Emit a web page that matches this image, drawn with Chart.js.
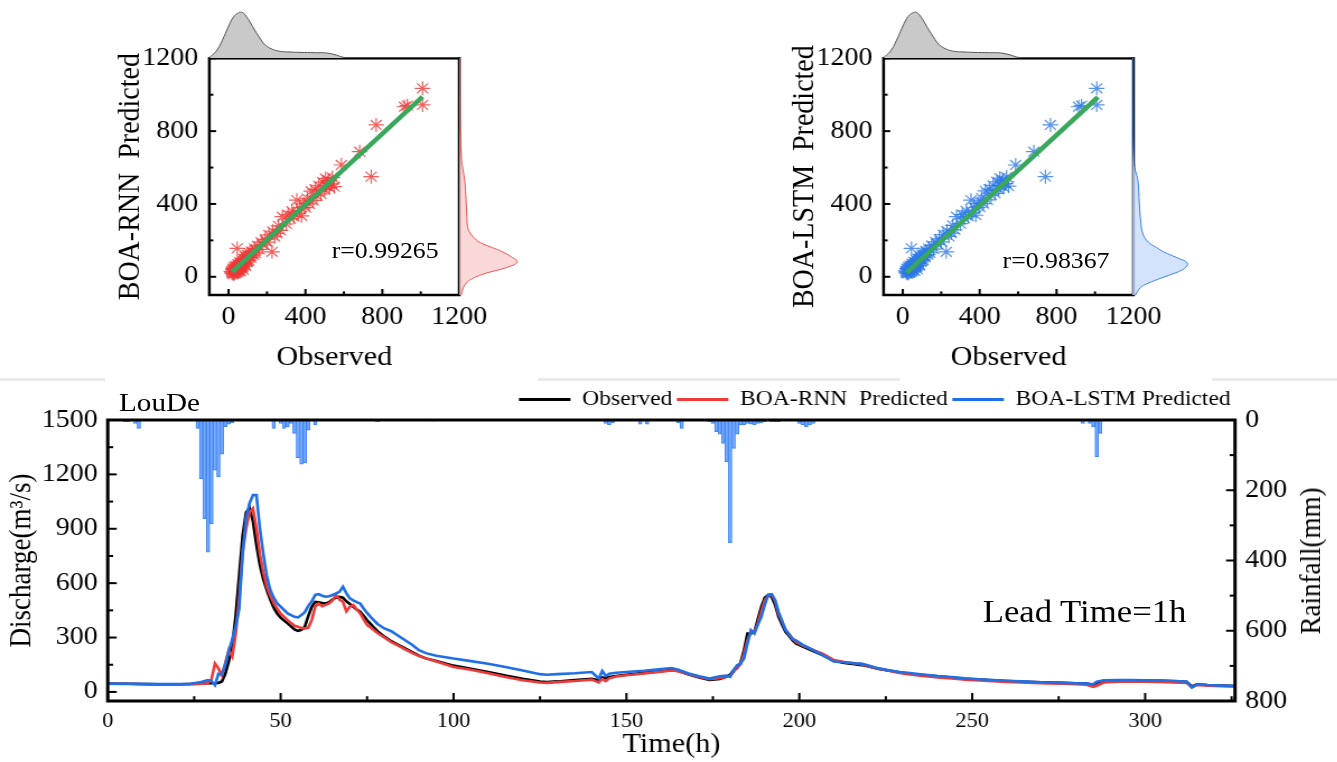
<!DOCTYPE html>
<html>
<head>
<meta charset="utf-8">
<script src="https://cdn.jsdelivr.net/npm/chart.js@4.4.0/dist/chart.umd.min.js"></script>
<style>
html,body{margin:0;padding:0;background:#fff;overflow:hidden;width:1337px;height:762px}
#wrap{position:absolute;left:0;top:0;width:1194px;height:762px;transform:scaleX(1.12);transform-origin:0 0;font-family:'Liberation Serif','Times New Roman',serif;color:#000}
canvas{position:absolute}
.lbl{position:absolute;white-space:pre;line-height:1}
.vt{position:absolute;white-space:pre;line-height:1;font-size:27px;transform:translate(-50%,-50%) rotate(-90deg)}
.sep{position:absolute;top:378px;height:3px;background:#ebebeb}
</style>
</head>
<body>
<div class="sep" style="left:0;width:105px"></div>
<div class="sep" style="left:538px;width:362px"></div>
<div class="sep" style="left:1212px;width:125px"></div>
<div id="wrap">
  <canvas id="scatL" width="346" height="375" style="left:96px;top:0"></canvas>
  <canvas id="scatR" width="346" height="375" style="left:697.8px;top:0"></canvas>
  <canvas id="topL" width="223" height="58" style="left:187px;top:0"></canvas>
  <canvas id="sideL" width="72" height="237" style="left:410px;top:58px"></canvas>
  <canvas id="topR" width="223" height="58" style="left:788.7px;top:0"></canvas>
  <canvas id="sideR" width="72" height="237" style="left:1011.3px;top:58px"></canvas>
  <canvas id="flow" width="1194" height="382" style="left:0;top:380px"></canvas>
  <div class="lbl" style="left:296.2px;top:239px;font-size:23px">r=0.99265</div>
  <div class="lbl" style="left:895.2px;top:248.5px;font-size:23px">r=0.98367</div>
  <div class="lbl" style="left:106.3px;top:390.3px;font-size:26px">LouDe</div>
  <div class="lbl" style="left:877.4px;top:596.2px;font-size:31px">Lead Time=1h</div>
  <div class="vt" style="left:1169.6px;top:560.8px">Rainfall(mm)</div>
</div>
<script>
// time series (hours)
const timeHours = [0,3,6,9,12,15,18,21,24,27,28,29,30,31,32,33,34,35,36,37,38,39,40,41,42,43,44,45,46,47,48,49,50,52,54,55,56,57,58,59,60,61,62,63,64,65,66,67,68,69,70,71,72,73,74,75,76,77,78,80,82,84,86,88,90,92,95,100,105,110,115,120,125,127,130,135,140,142,143,144,145,147,150,155,160,163,165,168,171,174,177,179,180,181,182,183,184,185,186,187,188,189,190,191,192,193,194,195,196,197,198,199,201,204,207,210,213,216,218,220,223,226,229,232,235,240,244,248,252,256,260,264,268,272,276,280,283,285,286,288,292,296,300,304,308,312,313.5,315,318,322,326];
const observed = [46,45,45,44,43,42,42,42,44,46,47,48,48,48,50,58,100,170,255,420,640,860,990,1015,940,810,700,620,561,510,465,433,410,378,345,337,342,360,420,470,497,495,490,488,495,510,520,525,520,500,485,470,455,442,420,395,375,355,335,305,280,260,240,220,200,185,170,145,128,110,90,72,58,55,58,65,72,65,80,75,82,88,95,105,115,122,115,96,80,66,72,85,95,120,132,160,230,322,322,331,400,469,520,534,525,480,414,372,332,310,285,268,250,225,200,172,160,153,148,140,126,117,108,100,94,86,80,73,68,64,60,57,54,52,50,48,46,40,50,60,62,62,62,61,59,56,30,42,38,35,33];
const rnnPred = [45,44,44,43,41,40,41,42,43,45,46,50,70,157,130,92,160,230,195,320,520,770,900,990,1012,900,760,660,580,530,490,460,432,396,365,360,352,350,355,396,470,488,473,480,488,505,534,510,497,445,470,480,455,433,400,370,355,340,325,300,275,255,235,215,198,185,168,138,122,103,82,64,52,50,54,60,68,52,72,60,75,85,92,102,112,118,114,97,83,70,75,84,90,110,136,152,210,285,330,330,380,445,505,530,536,502,432,388,345,320,295,276,256,232,208,176,165,158,152,141,128,117,105,96,89,80,74,68,63,59,55,52,49,47,45,43,40,28,34,52,57,57,56,55,53,50,26,38,35,32,30];
const lstmPred = [46,45,45,45,44,43,43,43,45,55,60,65,60,38,100,95,150,225,290,360,460,760,960,1040,1086,1086,900,760,640,562,520,488,470,433,414,411,425,440,475,500,535,540,530,525,528,535,543,552,580,545,516,505,495,488,460,436,414,395,375,350,335,310,285,260,230,214,200,184,170,155,138,118,98,95,98,103,110,74,116,88,100,106,110,117,126,132,122,102,86,74,86,90,83,122,147,157,185,267,341,322,372,414,480,536,539,506,440,392,341,318,292,285,260,230,200,168,164,157,156,146,130,120,110,104,98,88,82,75,70,66,62,58,55,52,50,48,46,42,56,64,65,65,64,64,62,56,24,42,38,35,33];

// hourly rainfall (mm), drawn downward from the top
const rainHours = [5,6,8,9,26,27,28,29,30,31,32,33,34,35,36,48,50,51,52,53,54,55,56,57,58,60,78,94,144,145,146,154,156,165,166,174,175,176,177,178,179,180,181,182,183,184,185,186,187,188,189,190,192,193,194,200,201,202,203,204,282,284,285,286,287];
const rainMm = [5,5,10,24,24,167,281,376,295,143,162,97,19,12,8,24,10,24,19,10,38,108,126,122,29,14,5,3,10,14,8,12,12,8,24,5,10,33,40,67,119,349,81,40,14,14,10,12,14,10,8,5,5,5,5,10,14,19,14,10,10,10,19,105,38];

// scatter panels: observed vs predicted pairs
const scatObs = [20,22,25,28,30,32,35,38,40,42,45,45,48,50,52,55,58,60,62,65,68,70,72,75,78,80,85,88,90,95,100,105,110,115,120,130,135,140,150,160,170,180,190,200,210,226,230,240,252,260,270,280,300,310,320,330,340,355,360,370,380,390,400,410,420,430,440,450,460,470,480,490,500,505,510,520,525,535,540,550,587,682,742,768,915,930,1009,1009,15,18,24,27,33,36,44,47,53,57,63,67,74,83,93,98,108,125];
const scatRnn = [25,45,15,35,55,20,40,60,30,50,25,156,70,40,60,35,80,55,30,75,50,90,60,40,100,70,95,60,110,80,120,90,130,105,140,120,155,130,170,150,190,175,205,190,230,137,250,220,238,280,255,330,290,340,320,360,330,421,350,380,335,400,380,430,400,470,420,480,445,500,455,520,480,540,500,530,490,510,545,495,614,687,550,834,934,940,1035,944,30,20,40,22,45,28,55,35,62,45,70,58,80,75,100,88,115,135];
const scatLstm = [28,45,18,38,55,22,42,62,32,52,28,156,72,42,62,38,82,58,32,78,52,92,62,42,100,72,98,62,112,82,122,92,132,108,142,122,155,132,172,152,192,178,208,192,232,137,252,222,240,282,258,330,292,342,322,362,332,421,352,382,338,402,382,432,402,472,422,482,448,502,458,522,482,542,502,532,492,512,548,498,614,687,550,834,934,940,1035,944,32,22,42,25,48,30,57,38,64,48,72,60,82,78,102,90,118,137];

// fitted lines of the scatter panels
const fitObsL = [19, 1009];
const fitRnn = [27, 989];
const fitObsR = [20, 1015];
const fitLstm = [22, 987];

// marginal densities (arbitrary units)
const obsDensVal = [-100,-93,-60,-24,0,27,50,71,90,114,135,157,180,200,230,269,320,372,450,510,560,594,650,800,1000,1200];
const obsDens = [0.5,1.6,8,21.6,32,41.6,45,45.6,42,35,28,21.6,15,11.6,8.5,6.6,6,5.6,5.3,5,3,0.8,0.3,0.2,0.2,0.1];
const rnnDensVal = [-100,-60,-35,-10,20,50,81,110,140,160,180,202,240,275,350,450,515,580,641,800,1000,1200];
const rnnDens = [2,4,7,13,27,47,58,52,42,33,24,17,11,8.4,7.5,6.5,5.7,4,2.3,1,0.5,0.3];
const lstmDensVal = [-100,-60,-40,-15,15,45,75,106,135,161,190,235,300,400,527,600,700,900,1200];
const lstmDens = [3,8,14,25,40,52,55,44,32,24,16,10.6,8.5,7,5.6,2.3,1,0.5,0.3];

const scatterTicks = [0, 400, 800, 1200];
const flowTicks = [0, 300, 600, 900, 1200, 1500];
const rainTicks = [0, 200, 400, 600, 800];
const timeTicks = [0, 50, 100, 150, 200, 250, 300];

Chart.defaults.font.family = "'Liberation Serif', 'Times New Roman', serif";
Chart.defaults.color = '#000';

const setTicks = vals => scale => { scale.ticks = vals.map(v => ({value: v})); };
const fixWidth = w => scale => { scale.width = w; };
const fixHeight = h => scale => { scale.height = h; };
const plain = v => String(v);

// inward tick marks + frame
const innerTicks = {
  id: 'innerTicks',
  afterDatasetsDraw(chart, args, opts) {
    const ctx = chart.ctx, a = chart.chartArea;
    ctx.save();
    ctx.strokeStyle = '#000';
    ctx.lineWidth = opts.tickWidth || 2;
    (opts.axes || []).forEach(ax => {
      const s = chart.scales[ax.id];
      const hi = Math.max(s.min, s.max);
      for (let v = ax.from; v <= hi + 1e-6; v += ax.minor) {
        const major = Math.abs(v / ax.major - Math.round(v / ax.major)) < 1e-6;
        const len = major ? ax.len : ax.len * 0.6;
        const p = s.getPixelForValue(v);
        ctx.beginPath();
        if (ax.side === 'left') { ctx.moveTo(a.left, p); ctx.lineTo(a.left + len, p); }
        else if (ax.side === 'right') { ctx.moveTo(a.right, p); ctx.lineTo(a.right - len, p); }
        else { ctx.moveTo(p, a.bottom); ctx.lineTo(p, a.bottom - len); }
        ctx.stroke();
      }
    });
    ctx.lineWidth = opts.box || 2;
    ctx.strokeRect(a.left, a.top, a.right - a.left, a.bottom - a.top);
    ctx.restore();
  }
};

// grow/shrink the canvas until the plot frame ends where the picture has it
function fitRight(chart, target) {
  for (let k = 0; k < 4; k++) {
    const dw = target - chart.chartArea.right;
    if (Math.abs(dw) < 0.5) break;
    chart.resize(Math.round(chart.width + dw), chart.height);
  }
}

function scatterPanel(id, pred, color, yTitle, fitX, fitY) {
  return new Chart(document.getElementById(id), {
    type: 'scatter',
    data: {
      datasets: [
        { type: 'line', data: fitX.map((x, i) => ({x: x, y: fitY[i]})), borderColor: '#3aa85c', borderWidth: 4.5, pointRadius: 0, order: 0 },
        { data: scatObs.map((x, i) => ({x: x, y: pred[i]})), pointStyle: 'star', pointRadius: 7,
          borderColor: color, backgroundColor: color, borderWidth: 1.2, order: 1 }
      ]
    },
    options: {
      responsive: false, animation: false,
      layout: { padding: { top: 58.3, right: 0, left: 0, bottom: 0 } },
      plugins: {
        legend: { display: false }, tooltip: { enabled: false },
        innerTicks: { box: 2.5, tickWidth: 2, axes: [
          { id: 'x', side: 'bottom', from: 0, major: 400, minor: 200, len: 6 },
          { id: 'y', side: 'left', from: 0, major: 400, minor: 200, len: 6 }
        ] }
      },
      scales: {
        x: { type: 'linear', min: -100, max: 1200, afterBuildTicks: setTicks(scatterTicks), afterFit: fixHeight(80),
             grid: { display: false, drawTicks: false }, border: { display: false },
             ticks: { font: { size: 25 }, padding: 7, maxRotation: 0, callback: plain },
             title: { display: true, text: 'Observed', font: { size: 27 }, padding: { top: 0, bottom: 1 } } },
        y: { type: 'linear', min: -100, max: 1200, afterBuildTicks: setTicks(scatterTicks), afterFit: fixWidth(90.9),
             grid: { display: false, drawTicks: false }, border: { display: false },
             ticks: { font: { size: 25 }, padding: 10, callback: plain },
             title: { display: true, text: yTitle, font: { size: 28 }, padding: { top: 4, bottom: 0 } } }
      }
    },
    plugins: [innerTicks]
  });
}

function topDensity(id) {
  return new Chart(document.getElementById(id), {
    type: 'line',
    data: { datasets: [{ data: obsDensVal.map((v, i) => ({x: v, y: obsDens[i]})), borderColor: '#555', borderWidth: 1,
      backgroundColor: '#c9c9c9', fill: 'origin', pointRadius: 0, tension: 0.4 }] },
    options: {
      responsive: false, animation: false, layout: { padding: 0 },
      plugins: { legend: { display: false }, tooltip: { enabled: false } },
      scales: { x: { type: 'linear', min: -100, max: 1200, display: false }, y: { type: 'linear', min: 0, max: 58, display: false } }
    }
  });
}

function sideDensity(id, vals, dens, line, fillc) {
  return new Chart(document.getElementById(id), {
    type: 'line',
    data: { datasets: [{ data: vals.map((v, i) => ({x: dens[i], y: v})), borderColor: line, borderWidth: 1,
      backgroundColor: fillc, fill: 'origin', pointRadius: 0, tension: 0.4 }] },
    options: {
      indexAxis: 'y', responsive: false, animation: false, layout: { padding: 0 },
      plugins: { legend: { display: false }, tooltip: { enabled: false } },
      scales: { x: { type: 'linear', min: 0, max: 80.6, display: false }, y: { type: 'linear', min: -100, max: 1200, display: false } }
    }
  });
}

const scatLeft = scatterPanel('scatL', scatRnn, 'rgba(240,55,55,0.8)', 'BOA-RNN  Predicted', fitObsL, fitRnn);
const scatRight = scatterPanel('scatR', scatLstm, 'rgba(45,120,230,0.8)', 'BOA-LSTM  Predicted', fitObsR, fitLstm);
fitRight(scatLeft, 410.1 - 96);
fitRight(scatRight, 1011.3 - 697.8);
topDensity('topL');
topDensity('topR');
sideDensity('sideL', rnnDensVal, rnnDens, '#f05050', 'rgba(250,200,200,0.7)');
sideDensity('sideR', lstmDensVal, lstmDens, '#3a80e0', 'rgba(200,220,250,0.8)');

const series = vals => timeHours.map((t, i) => ({x: t, y: vals[i]}));

new Chart(document.getElementById('flow'), {
  type: 'line',
  data: {
    datasets: [
      { label: 'Observed', data: series(observed), borderColor: '#000', borderWidth: 2.6, pointRadius: 0, pointBorderWidth: 3, order: 3, yAxisID: 'y' },
      { label: 'BOA-RNN  Predicted', data: series(rnnPred), borderColor: '#f03a3a', borderWidth: 2.6, pointRadius: 0, pointBorderWidth: 3, order: 2, yAxisID: 'y' },
      { label: 'BOA-LSTM Predicted', data: series(lstmPred), borderColor: '#1f6fe6', borderWidth: 2.6, pointRadius: 0, pointBorderWidth: 3, order: 1, yAxisID: 'y' },
      { type: 'bar', label: 'Rainfall', data: rainHours.map((t, i) => ({x: t, y: rainMm[i]})), yAxisID: 'y2', order: 4,
        backgroundColor: 'rgba(120,170,255,0.8)', borderColor: '#3d84f5', borderWidth: 1, barPercentage: 1, categoryPercentage: 1 }
    ]
  },
  options: {
    responsive: false, animation: false,
    layout: { padding: { top: 5, left: 0, right: 0, bottom: 0 } },
    plugins: {
      tooltip: { enabled: false },
      legend: {
        position: 'top', align: 'end', fullSize: false,
        labels: { usePointStyle: true, pointStyle: 'line', pointStyleWidth: 46, font: { size: 21 }, color: '#000', padding: 4,
          filter: it => it.datasetIndex < 3, sort: (a, b) => a.datasetIndex - b.datasetIndex }
      },
      innerTicks: { box: 3, tickWidth: 2, axes: [
        { id: 'x', side: 'bottom', from: 0, major: 50, minor: 25, len: 8 },
        { id: 'y', side: 'left', from: 0, major: 300, minor: 150, len: 8 },
        { id: 'y2', side: 'right', from: 0, major: 200, minor: 100, len: 8 }
      ] }
    },
    scales: {
      x: { type: 'linear', min: 0, max: 326, offset: false, afterBuildTicks: setTicks(timeTicks), afterFit: fixHeight(61),
           grid: { display: false, drawTicks: false }, border: { display: false },
           ticks: { font: { size: 20 }, padding: 9, maxRotation: 0, callback: plain },
           title: { display: true, text: 'Time(h)', font: { size: 27 }, padding: { top: 0, bottom: 1 } } },
      y: { type: 'linear', position: 'left', min: -50, max: 1500, afterBuildTicks: setTicks(flowTicks), afterFit: fixWidth(96.2),
           grid: { display: false, drawTicks: false }, border: { display: false },
           ticks: { font: { size: 25 }, padding: 9, callback: plain },
           title: { display: true, text: 'Discharge(m³/s)', font: { size: 27 }, padding: { top: 4, bottom: 0 } } },
      y2: { type: 'linear', position: 'right', reverse: true, min: 0, max: 800, afterBuildTicks: setTicks(rainTicks), afterFit: fixWidth(91.3),
           grid: { display: false, drawTicks: false }, border: { display: false },
           ticks: { font: { size: 25 }, padding: 9, callback: plain } }
    }
  },
  plugins: [innerTicks]
});
</script>
</body>
</html>
